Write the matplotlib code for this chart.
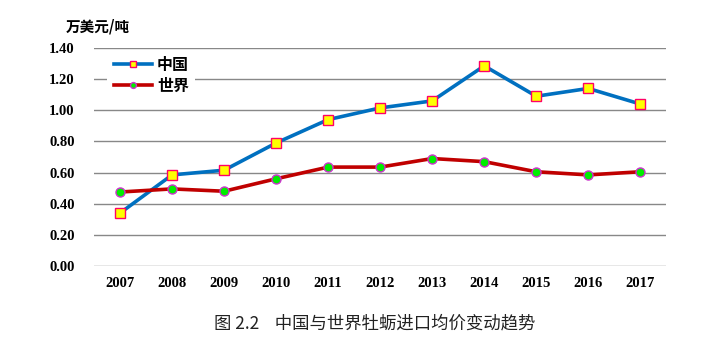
import matplotlib
matplotlib.use('Agg')
import matplotlib.pyplot as plt

years = ['2007', '2008', '2009', '2010', '2011', '2012', '2013', '2014', '2015', '2016', '2017']
china = [0.34, 0.585, 0.615, 0.79, 0.94, 1.015, 1.06, 1.285, 1.09, 1.14, 1.04]
world = [0.475, 0.495, 0.48, 0.56, 0.635, 0.635, 0.69, 0.67, 0.605, 0.585, 0.605]
yticks = [0.0, 0.2, 0.4, 0.6, 0.8, 1.0, 1.2, 1.4]

cjk = ['Noto Sans CJK SC', 'DejaVu Sans']

fig = plt.figure(figsize=(7.18, 3.45), dpi=100)
ax = fig.add_axes([0.131, 0.229, 0.797, 0.632])

x = list(range(len(years)))
ax.plot(x, china, color='#0070C0', lw=2.6, marker='s', ms=7,
        mfc='#FFFF00', mec='#FF0066', mew=1.0, label='中国', zorder=3)
ax.plot(x, world, color='#C00000', lw=2.6, marker='o', ms=6.5,
        mfc='#00EE00', mec='#CC33CC', mew=1.0, label='世界', zorder=3)

ax.set_xlim(-0.5, len(years) - 0.5)
ax.set_ylim(0, 1.4)
ax.set_yticks(yticks)
ax.set_yticklabels(['%.2f' % v for v in yticks], fontfamily='Liberation Serif',
                   fontweight='bold', fontsize=10.5)
ax.set_xticks(x)
ax.set_xticklabels(years, fontfamily='Liberation Serif', fontweight='bold', fontsize=10.5)
ax.tick_params(length=0, pad=8)
ax.tick_params(axis='y', pad=14)
ax.grid(axis='y', color='#888888', lw=1.0)
ax.set_axisbelow(True)
for s in ax.spines.values():
    s.set_visible(False)

leg = ax.legend(loc='upper left', bbox_to_anchor=(0.015, 1.01), frameon=True,
                prop={'family': cjk, 'weight': 'bold', 'size': 11.5},
                handlelength=2.4, handletextpad=0.3, labelspacing=0.3,
                borderaxespad=0.3, numpoints=1, markerscale=0.65)
leg.get_frame().set_edgecolor('none')
leg.get_frame().set_facecolor('white')
leg.get_frame().set_alpha(1.0)

fig.text(0.091, 0.91, '万美元/吨', family=cjk, fontweight='bold', fontsize=10.5)
fig.text(0.522, 0.048, '图 2.2    中国与世界牡蛎进口均价变动趋势', family=cjk,
         fontsize=12.5, ha='center', color='#222222')

fig.savefig('out.png', dpi=100)
